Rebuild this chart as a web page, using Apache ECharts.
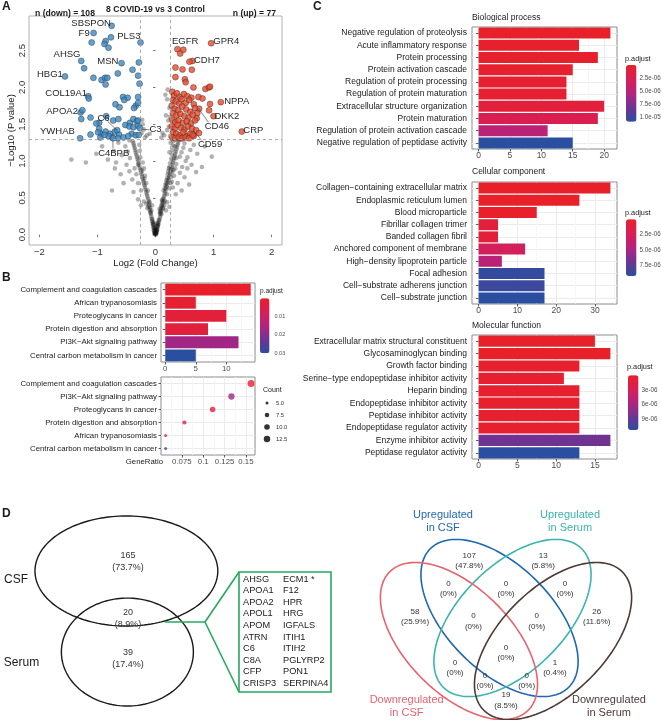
<!DOCTYPE html>
<html>
<head>
<meta charset="utf-8">
<script src="https://cdn.jsdelivr.net/npm/echarts@6.0.0/dist/echarts.min.js"></script>
<style>
html, body { margin: 0; padding: 0; background: #fff; }
#main { width: 661px; height: 720px; }
</style>
</head>
<body>
<div id="main"></div>
<script>
var FONT = '"Liberation Sans", Arial, Helvetica, sans-serif';

// ---- A: volcano ----
var volcanoXTicks = [-2, -1, 0, 1, 2];
var volcanoYTicks = [0, 0.5, 1, 1.5, 2, 2.5];
var fcCut = [-0.263, 0.263];
var pCut = 1.301;

var downPoints = [
  [-0.757, 2.836], [-1.067, 2.74], [-0.768, 2.68], [-0.258, 2.61], [-1.10, 2.61], [-0.86, 2.63], [-0.88, 2.59],
  [-0.81, 2.54], [-1.28, 2.36], [-1.23, 2.26], [-0.585, 2.33], [-0.286, 2.34], [-0.396, 2.24], [-0.65, 2.19],
  [-0.30, 2.16], [-1.56, 2.15], [-1.07, 2.13], [-0.93, 2.10], [-0.87, 2.13], [-0.83, 2.13], [-0.86, 2.04],
  [-0.275, 2.05], [-1.16, 1.88], [-1.15, 1.85], [-0.56, 1.87], [-0.48, 1.86], [-0.54, 1.83], [-0.30, 1.87],
  [-0.69, 1.77], [-0.34, 1.75], [-0.30, 1.79], [-0.62, 1.73], [-0.37, 1.72], [-1.29, 1.66], [-1.26, 1.69],
  [-1.12, 1.59], [-1.28, 1.57], [-0.97, 1.52], [-0.85, 1.61], [-0.73, 1.55], [-0.64, 1.57], [-0.52, 1.49],
  [-0.44, 1.52], [-0.38, 1.57], [-0.32, 1.54], [-1.30, 1.31], [-1.12, 1.36], [-1.02, 1.51], [-0.97, 1.44],
  [-0.94, 1.37], [-0.95, 1.32], [-0.86, 1.40], [-0.78, 1.37], [-0.70, 1.40], [-0.63, 1.36], [-0.55, 1.32],
  [-0.65, 1.31], [-0.745, 1.32], [-0.45, 1.47], [-0.38, 1.46], [-0.30, 1.48], [-0.41, 1.37], [-0.34, 1.35],
  [-0.29, 1.355], [-0.47, 1.34], [-0.30, 1.55], [-0.81, 1.34], [-0.88, 1.355], [-0.99, 1.39], [-0.27, 1.45],
  [-0.73, 1.31], [-0.66, 1.42]
];

var upPoints = [
  [0.959, 2.60], [0.379, 2.52], [0.48, 2.51], [0.425, 2.46], [0.637, 2.36], [0.585, 2.35], [0.344, 2.27],
  [0.465, 2.245], [0.626, 2.24], [0.344, 2.14], [0.506, 2.11], [0.52, 2.07], [0.654, 2.0], [0.86, 1.98],
  [0.92, 2.0], [0.94, 2.01], [0.74, 1.87], [0.81, 1.85], [1.126, 1.80], [0.94, 1.775], [1.0, 1.61],
  [0.924, 1.69], [0.752, 1.71], [0.72, 1.65], [1.487, 1.40],
  [0.29, 1.94], [0.32, 1.89], [0.37, 1.92], [0.42, 1.87], [0.49, 1.91], [0.55, 1.88], [0.62, 1.86],
  [0.30, 1.83], [0.35, 1.81], [0.41, 1.78], [0.45, 1.84], [0.52, 1.79], [0.58, 1.83], [0.66, 1.77],
  [0.28, 1.75], [0.33, 1.71], [0.39, 1.69], [0.46, 1.74], [0.53, 1.70], [0.60, 1.67], [0.68, 1.72],
  [0.30, 1.65], [0.36, 1.62], [0.43, 1.64], [0.50, 1.61], [0.57, 1.59], [0.64, 1.63], [0.71, 1.58],
  [0.29, 1.56], [0.34, 1.53], [0.40, 1.55], [0.47, 1.52], [0.54, 1.54], [0.61, 1.51], [0.68, 1.55],
  [0.28, 1.47], [0.33, 1.44], [0.38, 1.49], [0.44, 1.45], [0.50, 1.43], [0.56, 1.47], [0.63, 1.44],
  [0.70, 1.42], [0.30, 1.39], [0.36, 1.37], [0.42, 1.35], [0.48, 1.39], [0.54, 1.34], [0.60, 1.37],
  [0.66, 1.34], [0.29, 1.32], [0.34, 1.31], [0.40, 1.32], [0.46, 1.31], [0.52, 1.32], [0.58, 1.31],
  [0.75, 1.38], [0.64, 1.355]
];

var nsPoints = [
  [0, 0], [0.01, 0.01], [-0.01, 0.02], [0.02, 0.03], [-0.02, 0.01], [0.015, 0.05], [-0.015, 0.04], [0.03, 0.06],
  [-0.03, 0.06], [0.025, 0.08], [-0.025, 0.09], [0.04, 0.1], [-0.04, 0.1], [0.035, 0.12], [-0.035, 0.13],
  [0.05, 0.14], [-0.05, 0.15], [0.045, 0.16], [-0.045, 0.17], [0.06, 0.18], [-0.06, 0.19], [0.0, 0.03],
  [0.005, 0.07], [-0.005, 0.06], [0.02, 0.11], [-0.02, 0.1], [0.07, 0.21], [-0.065, 0.22], [0.08, 0.24],
  [-0.075, 0.25], [0.01, 0.04], [-0.01, 0.08], [0.03, 0.15], [-0.03, 0.16], [0.055, 0.2], [-0.055, 0.21],
  [0.0, 0.01], [0.012, 0.02], [-0.012, 0.03], [0.022, 0.06], [-0.022, 0.05], [0.04, 0.13], [-0.04, 0.14],
  [0.085, 0.27], [0.09, 0.3], [0.1, 0.33], [0.095, 0.36], [0.11, 0.39], [0.12, 0.42], [0.115, 0.45],
  [0.13, 0.48], [0.14, 0.5], [0.075, 0.29], [0.105, 0.28], [0.125, 0.35], [0.15, 0.4], [0.16, 0.46],
  [0.07, 0.35], [0.2, 0.44], [0.18, 0.33], [0.24, 0.38], [0.1, 0.4], [0.13, 0.37], [0.08, 0.32],
  [0.11, 0.47], [0.14, 0.44],
  [-0.08, 0.28], [-0.09, 0.31], [-0.1, 0.34], [-0.095, 0.37], [-0.11, 0.4], [-0.12, 0.43], [-0.115, 0.46],
  [-0.13, 0.49], [-0.07, 0.33], [-0.14, 0.36], [-0.16, 0.42], [-0.2, 0.45], [-0.06, 0.4], [-0.25, 0.4],
  [-0.3, 0.48], [-0.1, 0.44], [-0.085, 0.3], [-0.12, 0.38],
  [0.15, 0.53], [0.16, 0.56], [0.17, 0.59], [0.18, 0.62], [0.19, 0.65], [0.2, 0.68], [0.21, 0.71],
  [0.22, 0.74], [0.23, 0.77], [0.24, 0.8], [0.25, 0.83], [0.26, 0.86], [0.27, 0.89], [0.28, 0.92],
  [0.29, 0.95], [0.3, 0.98], [0.14, 0.6], [0.17, 0.67], [0.19, 0.74], [0.21, 0.82], [0.23, 0.9],
  [0.25, 0.97], [0.2, 0.55], [0.24, 0.63], [0.28, 0.72], [0.32, 0.8], [0.34, 0.9], [0.36, 0.96],
  [0.3, 0.64], [0.38, 0.7], [0.42, 0.84], [0.46, 0.92], [0.5, 0.78], [0.55, 0.9], [0.62, 0.95],
  [0.45, 0.6], [0.35, 0.55], [0.58, 0.68], [0.7, 0.85], [0.8, 0.92], [0.26, 0.7], [0.31, 0.88],
  [0.18, 0.7], [0.22, 0.86], [0.27, 0.78], [0.16, 0.63], [0.2, 0.77], [0.24, 0.92], [0.29, 0.85],
  [-0.14, 0.52], [-0.15, 0.55], [-0.16, 0.58], [-0.17, 0.61], [-0.18, 0.64], [-0.19, 0.67], [-0.2, 0.7],
  [-0.21, 0.73], [-0.22, 0.76], [-0.23, 0.79], [-0.24, 0.82], [-0.25, 0.85], [-0.26, 0.88], [-0.27, 0.91],
  [-0.28, 0.94], [-0.29, 0.97], [-0.13, 0.6], [-0.16, 0.7], [-0.18, 0.8], [-0.2, 0.9], [-0.22, 0.98],
  [-0.25, 0.6], [-0.3, 0.7], [-0.33, 0.82], [-0.36, 0.9], [-0.4, 0.75], [-0.45, 0.86], [-0.5, 0.95],
  [-0.55, 0.7], [-0.6, 0.82], [-0.7, 0.9], [-0.38, 0.58], [-0.75, 0.6], [-0.3, 0.95], [-0.19, 0.76],
  [-0.23, 0.87],
  [0.31, 1.01], [0.32, 1.04], [0.33, 1.07], [0.34, 1.1], [0.35, 1.13], [0.36, 1.16], [0.37, 1.19],
  [0.38, 1.22], [0.39, 1.25], [0.4, 1.28], [0.27, 1.03], [0.28, 1.09], [0.29, 1.15], [0.3, 1.21],
  [0.31, 1.27], [0.42, 1.06], [0.45, 1.12], [0.48, 1.18], [0.5, 1.24], [0.44, 1.29], [0.55, 1.05],
  [0.6, 1.15], [0.66, 1.22], [0.72, 1.1], [0.85, 1.2], [0.97, 1.06], [0.52, 1.0], [0.26, 1.25], [0.24, 1.12],
  [0.33, 1.2], [0.36, 1.04],
  [-0.3, 1.0], [-0.31, 1.03], [-0.32, 1.06], [-0.33, 1.09], [-0.34, 1.12], [-0.35, 1.15], [-0.36, 1.18],
  [-0.37, 1.21], [-0.38, 1.24], [-0.39, 1.27], [-0.26, 1.05], [-0.27, 1.14], [-0.28, 1.22], [-0.44, 1.04],
  [-0.48, 1.13], [-0.52, 1.2], [-0.58, 1.08], [-0.64, 1.25], [-0.72, 1.14], [-0.82, 1.02], [-0.92, 1.2],
  [-1.02, 1.1], [-1.2, 0.98], [-1.45, 1.02], [-0.45, 1.28], [-0.68, 0.98],
  [0.15, 1.35], [0.2, 1.42], [0.22, 1.55], [0.18, 1.62], [0.24, 1.72], [0.2, 1.84], [0.17, 1.9],
  [0.21, 1.97], [0.23, 1.47], [0.12, 1.38], [0.25, 1.6], [-0.15, 1.35], [-0.2, 1.43], [-0.22, 1.5],
  [-0.18, 1.32], [-0.24, 1.38], [0.25, 1.34], [0.1, 1.32], [-0.1, 1.37], [-0.23, 1.56]
];

var geneLabels = ['SBSPON', 'F9', 'PLS3', 'AHSG', 'MSN', 'HBG1', 'COL19A1', 'APOA2', 'C6', 'YWHAB', 'C3', 'C4BPB',
  'EGFR', 'GPR4', 'CDH7', 'NPPA', 'DKK2', 'CD46', 'CRP', 'CD59'];
var geneLabelPos = [[-1.11, 2.87], [-1.23, 2.73], [-0.46, 2.69], [-1.525, 2.45], [-0.82, 2.35], [-1.82, 2.18],
  [-1.54, 1.92], [-1.61, 1.68], [-0.895, 1.585], [-1.69, 1.40], [0.0, 1.43], [-0.72, 1.10],
  [0.51, 2.62], [1.22, 2.63], [0.885, 2.37], [1.40, 1.81], [1.23, 1.61], [1.057, 1.47], [1.687, 1.41], [0.94, 1.22]];
var leaderLines = [[-0.826, 1.54, -0.665, 1.42], [-0.217, 1.427, -0.10, 1.427], [-0.733, 1.278, -0.733, 1.175],
  [0.74, 1.717, 0.912, 1.527], [0.654, 1.413, 0.80, 1.278]];
var nDown = 108, nUp = 77;

// ---- B: KEGG ----
var keggTerms = ['Complement and coagulation cascades', 'African trypanosomiasis', 'Proteoglycans in cancer',
  'Protein digestion and absorption', 'PI3K−Akt signaling pathway', 'Central carbon metabolism in cancer'];
var keggCount = [14, 5, 10, 7, 12, 5];
var keggRatio = [0.156, 0.056, 0.111, 0.078, 0.133, 0.056];
var keggPadj = [0.0003, 0.0015, 0.003, 0.0035, 0.017, 0.030];
var keggBarTicks = [0, 5, 10];
var keggRatioTicks = [0.075, 0.1, 0.125, 0.15];
var keggPadjTicks = [0.01, 0.02, 0.03];
var countLegend = [5, 7.5, 10, 12.5];

// ---- C: GO ----
var bpTerms = ['Negative regulation of proteolysis', 'Acute inflammatory response', 'Protein processing',
  'Protein activation cascade', 'Regulation of protein processing', 'Regulation of protein maturation',
  'Extracellular structure organization', 'Protein maturation', 'Regulation of protein activation cascade',
  'Negative regulation of peptidase activity'];
var bpCount = [21, 16, 19, 15, 14, 14, 20, 19, 11, 15];
var bpPadj = [1e-8, 2e-7, 2e-7, 3e-7, 4e-7, 4e-7, 1.0e-6, 2.3e-6, 4.8e-6, 1.076e-5];
var ccTerms = ['Collagen−containing extracellular matrix', 'Endoplasmic reticulum lumen', 'Blood microparticle',
  'Fibrillar collagen trimer', 'Banded collagen fibril', 'Anchored component of membrane',
  'High−density lipoprotein particle', 'Focal adhesion', 'Cell−substrate adherens junction', 'Cell−substrate junction'];
var ccCount = [34, 26, 15, 5, 5, 12, 6, 17, 17, 17];
var ccPadj = [1e-8, 1e-8, 1e-7, 8e-7, 8e-7, 2.6e-6, 4.2e-6, 9.0e-6, 8.7e-6, 9.27e-6];
var mfTerms = ['Extracellular matrix structural constituent', 'Glycosaminoglycan binding', 'Growth factor binding',
  'Serine−type endopeptidase inhibitor activity', 'Heparin binding', 'Endopeptidase inhibitor activity',
  'Peptidase inhibitor activity', 'Endopeptidase regulator activity', 'Enzyme inhibitor activity',
  'Peptidase regulator activity'];
var mfCount = [15, 17, 13, 11, 13, 13, 13, 13, 17, 13];
var mfPadj = [1e-8, 1e-8, 2e-7, 4e-7, 3e-7, 3e-7, 3e-7, 3e-7, 8.3e-6, 1.12e-5];
var bpTicks = [0, 5, 10, 15, 20];
var ccTicks = [0, 10, 20, 30];
var mfTicks = [0, 5, 10, 15];
var bpPadjTicks = [2.5e-6, 5e-6, 7.5e-6, 1e-5];
var ccPadjTicks = [2.5e-6, 5e-6, 7.5e-6];
var mfPadjTicks = [3e-6, 6e-6, 9e-6];

// ---- D: Venn ----
var vennLeftSets = ['CSF', 'Serum'];
var vennLeftCounts = [165, 20, 39];
var vennLeftPct = ['73.7%', '8.9%', '17.4%'];
var sharedGenesA = ['AHSG', 'APOA1', 'APOA2', 'APOL1', 'APOM', 'ATRN', 'C6', 'C8A', 'CFP', 'CRISP3'];
var sharedGenesB = ['ECM1 *', 'F12', 'HPR', 'HRG', 'IGFALS', 'ITIH1', 'ITIH2', 'PGLYRP2', 'PON1', 'SERPINA4'];
var vennRightSets = ['Upregulated\nin CSF', 'Upregulated\nin Serum', 'Downregulated\nin CSF', 'Downregulated\nin Serum'];
var vennRightCounts = [107, 13, 0, 0, 0, 58, 0, 0, 26, 0, 0, 1, 0, 0, 19];
var vennRightPct = ['47.8%', '5.8%', '0%', '0%', '0%', '25.9%', '0%', '0%', '11.6%', '0%', '0%', '0.4%', '0%', '0%', '8.5%'];

// layout of the Venn diagrams (unit coordinates of their own grids)
var vennLeftShapes = [[0.383, 0.693, 0.277, 0.256, 0], [0.386, 0.316, 0.2, 0.251, 0]];
var vennLeftNumPos = [[0.388, 0.7372], [0.388, 0.474], [0.388, 0.2837]];
var vennLeftSetPos = [[0.0485, 0.651], [0.065, 0.265]];
var calloutSegs = [[0.5, 0.4558, 0.6212, 0.4558], [0.6212, 0.4558, 0.7242, 0.6884], [0.6212, 0.4558, 0.7242, 0.1302]];
var calloutBox = [[0.7242, 0.6884, 1.003, 0.1302]];
var vennRightShapes = [[0.473, 0.425, 0.408, 0.219, 135], [0.527, 0.425, 0.408, 0.219, 45],
  [0.304, 0.329, 0.408, 0.219, 135], [0.696, 0.329, 0.408, 0.219, 45]];
var vennRightColors = ['#1f68b1', '#3bb4ae', '#e9626d', '#4e3a35'];
var vennRightNumPos = [[0.347, 0.664], [0.655, 0.664], [0.26, 0.547], [0.5, 0.547], [0.746, 0.547],
  [0.121, 0.43], [0.364, 0.411], [0.628, 0.411], [0.878, 0.43], [0.5, 0.28], [0.2875, 0.2167],
  [0.704, 0.2167], [0.4125, 0.1625], [0.586, 0.1625], [0.5, 0.082]];
var vennRightSetPos = [[0.2375, 0.827], [0.767, 0.827], [0.086, 0.057], [0.929, 0.057]];

var padjColors = ['#e8202a', '#d71f57', '#b3237f', '#6f3493', '#2a4ea0'];

function minusFmt(v) { return (v < 0 ? '−' : '') + Math.abs(v); }
function sci(digits) {
  return function (v) {
    var s = v.toExponential(digits).split('e');
    var e = parseInt(s[1], 10);
    return s[0] + 'e' + (e < 0 ? '-' : '+') + (Math.abs(e) < 10 ? '0' : '') + Math.abs(e);
  };
}
function countSize(c) { return Math.sqrt(9 + 40 * (c - 5) / 9); }

var grids = [], xAxes = [], yAxes = [], series = [], visualMaps = [];

function addGrid(g) {
  g.outerBoundsMode = 'none';
  g.containLabel = false;
  grids.push(g);
  return grids.length - 1;
}
function hiddenAxis(gi, min, max) {
  return { type: 'value', gridIndex: gi, min: min, max: max, show: false };
}
function termAxis(gi, terms, size, margin) {
  return {
    type: 'category', gridIndex: gi, data: terms, inverse: true,
    axisLine: { show: false },
    axisTick: { show: true, alignWithLabel: true, length: 2.5, lineStyle: { color: '#333', width: 0.8 } },
    axisLabel: { interval: 0, fontSize: size, color: '#1a1a1a', margin: margin, fontFamily: FONT },
    splitLine: { show: true, alignWithLabel: true, lineStyle: { color: '#ebebeb', width: 1 } }
  };
}
function countAxis(gi, min, max, ticks, step, size, margin) {
  return {
    type: 'value', gridIndex: gi, min: min, max: max, minInterval: step, maxInterval: step,
    axisLine: { show: false },
    axisTick: { show: true, length: 2.5, customValues: ticks, lineStyle: { color: '#333', width: 0.8 } },
    axisLabel: { customValues: ticks, fontSize: size, color: '#4d4d4d', margin: margin, fontFamily: FONT },
    splitLine: { show: true, lineStyle: { color: '#ebebeb', width: 1 } },
    minorTick: { show: false, splitNumber: 2 },
    minorSplitLine: { show: true, lineStyle: { color: '#f5f5f5', width: 0.8 } }
  };
}
function scaleAxis(gi, min, max, ticks, fmt, size, margin) {
  return {
    type: 'value', gridIndex: gi, min: min, max: max, inverse: true, position: 'right',
    axisLine: { show: false }, axisTick: { show: false }, splitLine: { show: false },
    axisLabel: { customValues: ticks, formatter: fmt, fontSize: size, color: '#4d4d4d', margin: margin, fontFamily: FONT }
  };
}
function padjMap(seriesIdx, min, max, left, top, w, h) {
  return {
    type: 'continuous', seriesIndex: seriesIdx, dimension: 2, min: min, max: max, inverse: true,
    calculable: false, orient: 'vertical', left: left, top: top, itemWidth: w, itemHeight: h,
    padding: 0, hoverLink: false, inRange: { color: padjColors }
  };
}
var boxStyle = { show: true, borderColor: '#8c8c8c', borderWidth: 1, backgroundColor: '#fff' };

// A
var gV = addGrid({ left: 29, top: 16, width: 253, height: 229, show: true, borderColor: '#b0b0b0', borderWidth: 1, backgroundColor: '#fff' });
xAxes.push({
  type: 'value', gridIndex: gV, min: -2.18, max: 2.18,
  name: 'Log2 (Fold Change)', nameLocation: 'middle', nameGap: 13,
  nameTextStyle: { fontSize: 9.5, color: '#1a1a1a', fontFamily: FONT },
  axisLine: { show: false },
  axisTick: { show: true, length: 2.5, customValues: volcanoXTicks, lineStyle: { color: '#777' } },
  axisLabel: { customValues: volcanoXTicks, formatter: minusFmt, fontSize: 9.5, color: '#333', margin: 2, fontFamily: FONT },
  splitLine: { show: false }
});
yAxes.push({
  type: 'value', gridIndex: gV, min: -0.14, max: 2.97,
  name: '−Log10 (P value)', nameLocation: 'middle', nameGap: 13,
  nameTextStyle: { fontSize: 9.5, color: '#1a1a1a', fontFamily: FONT },
  axisLine: { show: false },
  axisTick: { show: true, length: 2.5, customValues: volcanoYTicks, lineStyle: { color: '#777' } },
  axisLabel: { customValues: volcanoYTicks, rotate: 90, formatter: function (v) { return v.toFixed(1); },
    fontSize: 9.5, color: '#333', margin: 2, fontFamily: FONT },
  splitLine: { show: false }
});
series.push({
  type: 'scatter', xAxisIndex: gV, yAxisIndex: gV, data: nsPoints, symbolSize: 4.6, silent: true, z: 1,
  itemStyle: { color: 'rgba(15,15,15,0.4)' },
  markLine: {
    silent: true, symbol: 'none', label: { show: false }, animation: false,
    lineStyle: { type: [3, 3], color: '#a0a0a0', width: 0.9 },
    data: [{ xAxis: fcCut[0] }, { xAxis: fcCut[1] }, { yAxis: pCut }]
  }
});
series.push({
  type: 'scatter', xAxisIndex: gV, yAxisIndex: gV, data: downPoints, symbolSize: 6, silent: true, z: 2,
  itemStyle: { color: '#3b8ac3', borderColor: '#2b2b2b', borderWidth: 0.5 }
});
series.push({
  type: 'scatter', xAxisIndex: gV, yAxisIndex: gV, data: upPoints, symbolSize: 6, silent: true, z: 2,
  itemStyle: { color: '#e9492b', borderColor: '#2b2b2b', borderWidth: 0.5 }
});
series.push({
  type: 'custom', xAxisIndex: gV, yAxisIndex: gV, data: leaderLines, silent: true, z: 3,
  encode: { x: [0, 2], y: [1, 3] },
  renderItem: function (params, api) {
    var a = api.coord([api.value(0), api.value(1)]), b = api.coord([api.value(2), api.value(3)]);
    return { type: 'line', shape: { x1: a[0], y1: a[1], x2: b[0], y2: b[1] }, style: { stroke: '#333', lineWidth: 0.6 } };
  }
});
series.push({
  type: 'custom', xAxisIndex: gV, yAxisIndex: gV, data: geneLabelPos, silent: true, z: 4,
  encode: { x: 0, y: 1 },
  renderItem: function (params, api) {
    var p = api.coord([api.value(0), api.value(1)]);
    return { type: 'text', x: p[0], y: p[1], style: { text: geneLabels[params.dataIndex], fill: '#262626',
      fontSize: 9.5, fontFamily: FONT, align: 'center', verticalAlign: 'middle' } };
  }
});

// B
var gKB = addGrid(Object.assign({ left: 161, top: 283, width: 94, height: 79 }, boxStyle));
xAxes.push(countAxis(gKB, -0.7, 14.7, keggBarTicks, 5, 7.8, 2.5));
yAxes.push(termAxis(gKB, keggTerms, 7.8, 4));
var sKB = series.length;
series.push({
  type: 'bar', xAxisIndex: gKB, yAxisIndex: gKB, silent: true, barCategoryGap: '10%', encode: { x: 0, y: 1 },
  data: keggCount.map(function (c, i) { return [c, i, keggPadj[i]]; })
});
var dotOrder = keggTerms.map(function (t, i) { return i; })
  .sort(function (a, b) { return keggRatio[b] - keggRatio[a] || a - b; });
var gKD = addGrid(Object.assign({ left: 161, top: 377, width: 94, height: 78 }, boxStyle));
var dotX = countAxis(gKD, 0.0506, 0.1606, keggRatioTicks, 0.025, 7.8, 2.5);
dotX.name = 'GeneRatio';
dotX.nameLocation = 'start';
dotX.nameGap = -2;
dotX.nameTextStyle = { fontSize: 7.8, color: '#1a1a1a', fontFamily: FONT, align: 'right', verticalAlign: 'top', padding: [2.5, 0, 0, 0] };
xAxes.push(dotX);
yAxes.push(termAxis(gKD, dotOrder.map(function (i) { return keggTerms[i]; }), 7.8, 4));
var sKD = series.length;
series.push({
  type: 'scatter', xAxisIndex: gKD, yAxisIndex: gKD, silent: true, encode: { x: 0, y: 1 },
  data: dotOrder.map(function (i, k) { return [keggRatio[i], k, keggPadj[i], keggCount[i]]; }),
  symbolSize: function (v) { return countSize(v[3]); }
});
var gKS = addGrid({ left: 260, top: 298.3, width: 9.5, height: 55 });
xAxes.push(hiddenAxis(gKS, 0, 1));
yAxes.push(scaleAxis(gKS, 0.0003, 0.030, keggPadjTicks, function (v) { return String(v); }, 5.5, 5));
visualMaps.push(padjMap([sKB, sKD], 0.0003, 0.030, 260, 298.3, 9.5, 55));
var gCL = addGrid({ left: 262, top: 397, width: 10, height: 48 });
xAxes.push(hiddenAxis(gCL, -1, 1));
yAxes.push({
  type: 'category', gridIndex: gCL, inverse: true, position: 'right',
  data: countLegend.map(function (c) { return c.toFixed(1); }),
  axisLine: { show: false }, axisTick: { show: false }, splitLine: { show: false },
  axisLabel: { interval: 0, fontSize: 5.8, color: '#333', margin: 4, fontFamily: FONT }
});
series.push({
  type: 'scatter', xAxisIndex: gCL, yAxisIndex: gCL, silent: true, itemStyle: { color: '#000' },
  data: countLegend.map(function (c, i) { return [0, i, c]; }),
  symbolSize: function (v) { return countSize(v[2]); }
});

// C
function goPanel(top, h, terms, counts, padj, xmax, ticks, step, scaleTop, scaleH, scaleLeft, smax, sticks, fmt) {
  var g = addGrid(Object.assign({ left: 472, top: top, width: 145, height: h }, boxStyle));
  xAxes.push(countAxis(g, -xmax * 0.05 / 1.05, xmax, ticks, step, 8.5, 2));
  yAxes.push(termAxis(g, terms, 8.5, 5));
  var si = series.length;
  series.push({
    type: 'bar', xAxisIndex: g, yAxisIndex: g, silent: true, barCategoryGap: '10%', encode: { x: 0, y: 1 },
    data: counts.map(function (c, i) { return [c, i, padj[i]]; })
  });
  var gs = addGrid({ left: scaleLeft, top: scaleTop, width: 10.5, height: scaleH });
  xAxes.push(hiddenAxis(gs, 0, 1));
  yAxes.push(scaleAxis(gs, 1e-8, smax, sticks, fmt, 6.3, 3));
  visualMaps.push(padjMap([si], 1e-8, smax, scaleLeft, scaleTop, 10.5, scaleH));
}
goPanel(27, 122, bpTerms, bpCount, bpPadj, 22.05, bpTicks, 5, 65, 56.7, 626, 1.076e-5, bpPadjTicks, sci(1));
goPanel(182, 122, ccTerms, ccCount, ccPadj, 35.7, ccTicks, 10, 219.3, 56.7, 626, 9.27e-6, ccPadjTicks, sci(1));
goPanel(335, 124, mfTerms, mfCount, mfPadj, 17.85, mfTicks, 5, 375.3, 54.7, 628, 1.12e-5, mfPadjTicks, sci(0));

// D
function ellipseSeries(gi, shapes, colorOf, width) {
  return {
    type: 'custom', xAxisIndex: gi, yAxisIndex: gi, silent: true, z: 3, data: shapes, encode: { x: 0, y: 1 },
    renderItem: function (params, api) {
      var cu = api.value(0), cv = api.value(1), a = api.value(2), b = api.value(3), r = api.value(4) * Math.PI / 180;
      var pts = [];
      for (var k = 0; k <= 160; k++) {
        var t = k / 160 * 2 * Math.PI, lx = a * Math.cos(t), ly = b * Math.sin(t);
        pts.push(api.coord([cu + lx * Math.cos(r) - ly * Math.sin(r), cv + lx * Math.sin(r) + ly * Math.cos(r)]));
      }
      return { type: 'polyline', shape: { points: pts }, style: { fill: 'none', stroke: colorOf(params.dataIndex), lineWidth: width } };
    }
  };
}
function textSeries(gi, pos, texts, colorOf, size, lh) {
  return {
    type: 'custom', xAxisIndex: gi, yAxisIndex: gi, silent: true, z: 4, data: pos, encode: { x: 0, y: 1 },
    renderItem: function (params, api) {
      var p = api.coord([api.value(0), api.value(1)]);
      return { type: 'text', x: p[0], y: p[1], style: { text: texts[params.dataIndex], fill: colorOf(params.dataIndex),
        fontSize: size, lineHeight: lh, fontFamily: FONT, align: 'center', verticalAlign: 'middle' } };
    }
  };
}
var gVL = addGrid({ left: 0, top: 505, width: 330, height: 215 });
xAxes.push(hiddenAxis(gVL, 0, 1));
yAxes.push(hiddenAxis(gVL, 0, 1));
series.push(ellipseSeries(gVL, vennLeftShapes, function () { return '#1a1a1a'; }, 1.4));
series.push(textSeries(gVL, vennLeftNumPos, vennLeftCounts.map(function (c, i) { return c + '\n(' + vennLeftPct[i] + ')'; }),
  function () { return '#333'; }, 9, 12));
series.push(textSeries(gVL, vennLeftSetPos, vennLeftSets, function () { return '#1a1a1a'; }, 12, 14));
series.push({
  type: 'custom', xAxisIndex: gVL, yAxisIndex: gVL, silent: true, z: 3, data: calloutSegs, encode: { x: [0, 2], y: [1, 3] },
  renderItem: function (params, api) {
    var a = api.coord([api.value(0), api.value(1)]), b = api.coord([api.value(2), api.value(3)]);
    return { type: 'line', shape: { x1: a[0], y1: a[1], x2: b[0], y2: b[1] }, style: { stroke: '#27a85f', lineWidth: 1.6 } };
  }
});
series.push({
  type: 'custom', xAxisIndex: gVL, yAxisIndex: gVL, silent: true, z: 3, data: calloutBox, encode: { x: [0, 2], y: [1, 3] },
  renderItem: function (params, api) {
    var a = api.coord([api.value(0), api.value(1)]), b = api.coord([api.value(2), api.value(3)]);
    return { type: 'rect', shape: { x: a[0], y: a[1], width: b[0] - a[0], height: b[1] - a[1] },
      style: { fill: 'none', stroke: '#27a85f', lineWidth: 1.6 } };
  }
});
var gVR = addGrid({ left: 386, top: 480, width: 240, height: 240 });
xAxes.push(hiddenAxis(gVR, 0, 1));
yAxes.push(hiddenAxis(gVR, 0, 1));
series.push(ellipseSeries(gVR, vennRightShapes, function (i) { return vennRightColors[i]; }, 1.6));
series.push(textSeries(gVR, vennRightNumPos, vennRightCounts.map(function (c, i) { return c + '\n(' + vennRightPct[i] + ')'; }),
  function () { return '#333'; }, 8, 10.5));
series.push(textSeries(gVR, vennRightSetPos, vennRightSets, function (i) { return vennRightColors[i]; }, 11, 13));

// free text
function txt(x, y, text, size, opt) {
  opt = opt || {};
  return { type: 'text', x: x, y: y, silent: true, z: 10, style: { text: text, fill: opt.color || '#1a1a1a',
    fontSize: size, fontFamily: FONT, fontWeight: opt.bold ? 'bold' : 'normal',
    align: opt.align || 'left', verticalAlign: opt.va || 'middle' } };
}
var graphics = [
  txt(2, 1, 'A', 12, { bold: true, va: 'top' }),
  txt(2, 272, 'B', 12, { bold: true, va: 'top' }),
  txt(313, 1, 'C', 12, { bold: true, va: 'top' }),
  txt(2, 508, 'D', 12, { bold: true, va: 'top' }),
  txt(155.5, 9.5, '8 COVID-19 vs 3 Control', 8.6, { bold: true, align: 'center' }),
  txt(35, 13.5, 'n (down) = ' + nDown, 8.6, { bold: true }),
  txt(276, 13.5, 'n (up) = ' + nUp, 8.6, { bold: true, align: 'right' }),
  txt(260, 291, 'p.adjust', 6.5),
  txt(263, 390, 'Count', 7),
  txt(472, 17.3, 'Biological process', 8.5),
  txt(472, 171.7, 'Cellular component', 8.5),
  txt(472, 326, 'Molecular function', 8.5),
  txt(625, 58.5, 'p.adjust', 7.3),
  txt(625, 212.7, 'p.adjust', 7.3),
  txt(627, 367.3, 'p.adjust', 7.3)
];
sharedGenesA.forEach(function (g, k) {
  graphics.push(txt(243, 579 + 11.6 * k, g, 9.2));
  graphics.push(txt(283, 579 + 11.6 * k, sharedGenesB[k], 9.2));
});

var chart = echarts.init(document.getElementById('main'));
chart.setOption({
  animation: false,
  backgroundColor: '#fff',
  textStyle: { fontFamily: FONT },
  grid: grids,
  xAxis: xAxes,
  yAxis: yAxes,
  visualMap: visualMaps,
  series: series,
  graphic: graphics
});
</script>
</body>
</html>
